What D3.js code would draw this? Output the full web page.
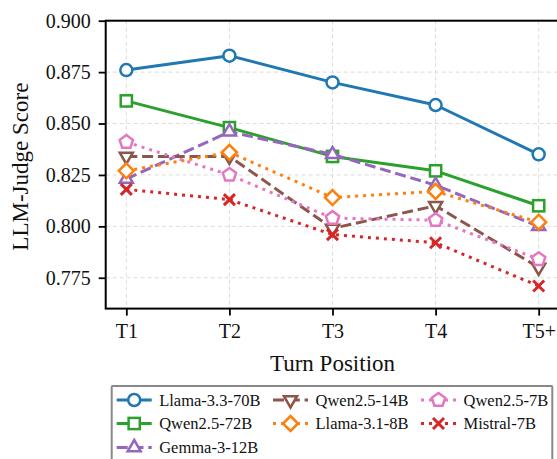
<!DOCTYPE html>
<html>
<head>
<meta charset="utf-8">
<script src="https://cdn.jsdelivr.net/npm/d3@7"></script>
<style>
  html, body { margin: 0; padding: 0; background: #fff; }
  svg { display: block; }
  svg text { font-family: 'Liberation Serif', 'Times New Roman', Times, 'Nimbus Roman', 'DejaVu Serif', serif !important; fill: #111; }
</style>
</head>
<body>
<svg id="chart" width="557" height="459"></svg>
<script>
// ---- data ----
const categories = ["T1", "T2", "T3", "T4", "T5+"];
const seriesNames = ["Llama-3.3-70B", "Qwen2.5-72B", "Gemma-3-12B", "Qwen2.5-14B", "Llama-3.1-8B", "Qwen2.5-7B", "Mistral-7B"];
const llama70 = [0.876, 0.883, 0.870, 0.859, 0.835];
const qwen72  = [0.861, 0.848, 0.834, 0.827, 0.810];
const gemma12 = [0.823, 0.846, 0.835, 0.820, 0.800];
const qwen14  = [0.834, 0.834, 0.799, 0.810, 0.780];
const llama8  = [0.827, 0.836, 0.814, 0.817, 0.802];
const qwen7   = [0.841, 0.825, 0.804, 0.803, 0.784];
const mistral = [0.818, 0.813, 0.796, 0.792, 0.771];
const yTicks = [0.775, 0.800, 0.825, 0.850, 0.875, 0.900];
const xLabel = "Turn Position";
const yLabel = "LLM-Judge Score";

const seriesValues = [llama70, qwen72, gemma12, qwen14, llama8, qwen7, mistral];
const colors = ["#1f77b4", "#2ca02c", "#9467bd", "#8c564b", "#ff7f0e", "#e377c2", "#d62728"];
const markers = ["circle", "square", "triUp", "triDown", "diamond", "pentagon", "cross"];
const dashes = [null, null, "11,4.8", "11,4.8", "3,5", "3,5", "3,5"];
const FONT = "'Liberation Serif', 'Times New Roman', Times, 'Nimbus Roman', 'DejaVu Serif', serif";

const svg = d3.select("#chart");
const x = d3.scaleLinear().domain([-0.2, 4.2]).range([105.7, 559.3]);
const y = d3.scaleLinear().domain([0.76, 0.90]).range([308.6, 20.7]);

// grid
const grid = svg.append("g");
grid.selectAll("line.gy").data(yTicks).join("line")
  .attr("x1", x(-0.2)).attr("x2", x(4.2))
  .attr("y1", d => y(d)).attr("y2", d => y(d))
  .attr("stroke", "#dcdcdc").attr("stroke-width", 1).attr("stroke-dasharray", "4,3");
grid.selectAll("line.gx").data(categories).join("line")
  .attr("x1", (d, i) => x(i)).attr("x2", (d, i) => x(i))
  .attr("y1", y(0.90)).attr("y2", y(0.76))
  .attr("stroke", "#dcdcdc").attr("stroke-width", 1).attr("stroke-dasharray", "4,3");

// marker drawing
function drawMarker(g, type, color, cx, cy, s) {
  s = s || 1;
  const sw = 2.5;
  if (type === "circle") {
    g.append("circle").attr("cx", cx).attr("cy", cy).attr("r", 6 * s)
      .attr("fill", "#fff").attr("stroke", color).attr("stroke-width", sw);
  } else if (type === "square") {
    const h = 5.6 * s;
    g.append("rect").attr("x", cx - h).attr("y", cy - h).attr("width", 2 * h).attr("height", 2 * h)
      .attr("fill", "#fff").attr("stroke", color).attr("stroke-width", sw);
  } else if (type === "diamond") {
    const h = 7.5 * s;
    g.append("path").attr("d", `M${cx},${cy - h}L${cx + h},${cy}L${cx},${cy + h}L${cx - h},${cy}Z`)
      .attr("fill", "#fff").attr("stroke", color).attr("stroke-width", sw);
  } else if (type === "triUp" || type === "triDown") {
    const r = 7.5 * s, sgn = type === "triUp" ? 1 : -1;
    const pts = [[cx, cy - sgn * r], [cx + r * 0.87, cy + sgn * r * 0.5], [cx - r * 0.87, cy + sgn * r * 0.5]];
    g.append("path").attr("d", "M" + pts.map(p => p.join(",")).join("L") + "Z")
      .attr("fill", "#fff").attr("stroke", color).attr("stroke-width", sw);
  } else if (type === "pentagon") {
    const r = 7 * s;
    const pts = d3.range(5).map(k => {
      const a = -Math.PI / 2 + k * 2 * Math.PI / 5;
      return [cx + r * Math.cos(a), cy + r * Math.sin(a)];
    });
    g.append("path").attr("d", "M" + pts.map(p => p.join(",")).join("L") + "Z")
      .attr("fill", "#fff").attr("stroke", color).attr("stroke-width", sw);
  } else if (type === "cross") {
    const h = 5.5 * s;
    g.append("path").attr("d", `M${cx - h},${cy - h}L${cx + h},${cy + h}M${cx - h},${cy + h}L${cx + h},${cy - h}`)
      .attr("fill", "none").attr("stroke", color).attr("stroke-width", 3);
  }
}

// series
const line = d3.line().x((d, i) => x(i)).y(d => y(d));
seriesValues.forEach((vals, si) => {
  const g = svg.append("g");
  g.append("path").datum(vals).attr("d", line)
    .attr("fill", "none").attr("stroke", colors[si]).attr("stroke-width", 3)
    .attr("stroke-dasharray", dashes[si]).attr("stroke-linejoin", "round");
  vals.forEach((v, i) => drawMarker(g, markers[si], colors[si], x(i), y(v)));
});

// spines (frame)
svg.append("rect").attr("x", x(-0.2)).attr("y", y(0.90))
  .attr("width", x(4.2) - x(-0.2)).attr("height", y(0.76) - y(0.90))
  .attr("fill", "none").attr("stroke", "#000").attr("stroke-width", 2);

// axes
const yAxis = d3.axisLeft(y).tickValues(yTicks).tickFormat(d3.format(".3f")).tickSize(7).tickPadding(8);
const gy = svg.append("g").attr("transform", `translate(${x(-0.2)},0)`).call(yAxis)
  .attr("font-family", FONT).attr("font-size", 20);
gy.select(".domain").remove();
gy.selectAll(".tick line").attr("stroke", "#000").attr("stroke-width", 1.8);
gy.selectAll(".tick text").style("font-family", FONT).style("font-size", "20px").attr("fill", "#111");

const xAxis = d3.axisBottom(x).tickValues(d3.range(categories.length)).tickFormat(i => categories[i]).tickSize(7).tickPadding(8);
const gx = svg.append("g").attr("transform", `translate(0,${y(0.76)})`).call(xAxis)
  .attr("font-family", FONT).attr("font-size", 20);
gx.select(".domain").remove();
gx.selectAll(".tick line").attr("stroke", "#000").attr("stroke-width", 1.8);
gx.selectAll(".tick text").style("font-family", FONT).style("font-size", "20px").attr("fill", "#111");

// axis labels
svg.append("text").attr("x", (x(-0.2) + x(4.2)) / 2).attr("y", 371)
  .attr("text-anchor", "middle").style("font-family", FONT).style("font-size", "23px").text(xLabel);
svg.append("text").attr("transform", `translate(28,${(y(0.90) + y(0.76)) / 2 + 2}) rotate(-90)`)
  .attr("text-anchor", "middle").style("font-family", FONT).style("font-size", "23px").text(yLabel);

// legend
const leg = svg.append("g");
leg.append("rect").attr("x", 111.7).attr("y", 386).attr("width", 440.6).attr("height", 90)
  .attr("fill", "#fff").attr("stroke", "#888").attr("stroke-width", 2).attr("rx", 1);
const colX = [116.7, 273, 421];
const rowY = [400, 423.5, 447.5];
const order = [[0, 1, 2], [3, 4], [5, 6]];
order.forEach((col, c) => {
  col.forEach((si, r) => {
    const lx = colX[c], ly = rowY[r];
    const g = leg.append("g");
    g.append("line").attr("x1", lx).attr("x2", lx + 35).attr("y1", ly).attr("y2", ly)
      .attr("stroke", colors[si]).attr("stroke-width", 3).attr("stroke-dasharray", dashes[si]);
    drawMarker(g, markers[si], colors[si], lx + 17.5, ly);
    g.append("text").attr("x", lx + 42.5).attr("y", ly).attr("dy", "0.35em")
      .style("font-family", FONT).style("font-size", "16.5px").text(seriesNames[si]);
  });
});
</script>
</body>
</html>
